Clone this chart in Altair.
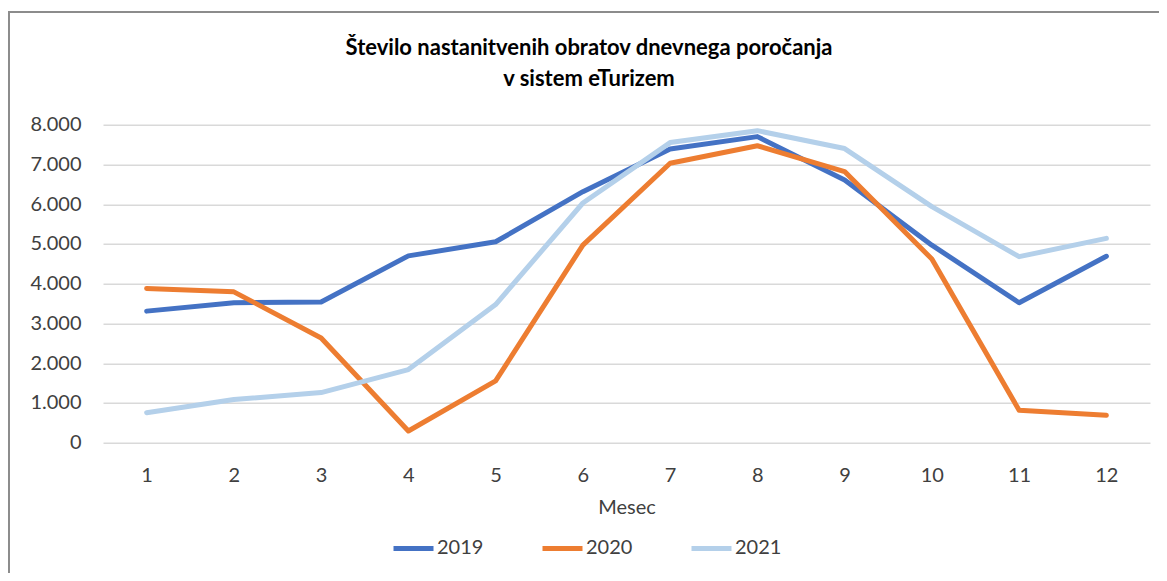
import altair as alt
import pandas as pd

months = list(range(1, 13))
years = ["2019", "2020", "2021"]
v2019 = [3310, 3520, 3540, 4700, 5055, 6315, 7390, 7700, 6610, 4970, 3520, 4690]
v2020 = [3880, 3795, 2635, 295, 1555, 4970, 7030, 7470, 6820, 4620, 815, 690]
v2021 = [755, 1085, 1260, 1840, 3475, 6030, 7550, 7850, 7400, 5940, 4680, 5140]
colors = ["#4472C4", "#ED7D31", "#B4D0EA"]

title_lines = ["Število nastanitvenih obratov dnevnega poročanja", "v sistem eTurizem"]

rows = []
for yr, vals in zip(years, [v2019, v2020, v2021]):
    for m, v in zip(months, vals):
        rows.append({"Mesec": m, "Leto": yr, "Vrednost": v, "order": years.index(yr)})
df = pd.DataFrame(rows)

FONT = "Lato"
TXT = "#404040"
FS = 20

lines = alt.Chart(df).mark_line(strokeWidth=5, strokeCap="round", strokeJoin="round").encode(
    x=alt.X("Mesec:O", scale=alt.Scale(type="point", padding=0.5),
            axis=alt.Axis(title="Mesec", labelAngle=0, ticks=False, domain=False, tickSize=0,
                          labelPadding=23, titlePadding=12, labelFontSize=FS, titleFontSize=FS,
                          titleFontWeight="normal", labelColor=TXT, titleColor=TXT,
                          labelFont=FONT, titleFont=FONT, grid=False)),
    y=alt.Y("Vrednost:Q", scale=alt.Scale(domain=[0, 8000], nice=False),
            axis=alt.Axis(title=None, values=list(range(0, 8001, 1000)), ticks=False, domain=False,
                          tickSize=0, labelPadding=22, labelFontSize=FS, labelColor=TXT, labelFont=FONT,
                          labelExpr="replace(format(datum.value, ','), ',', '.')",
                          gridColor="#D9D9D9", gridWidth=1.5)),
    color=alt.Color("Leto:N", scale=alt.Scale(domain=years, range=colors),
                    legend=alt.Legend(title=None, orient="none", direction="horizontal",
                                      legendX=288, legendY=401, symbolType="stroke",
                                      symbolSize=1600, symbolStrokeWidth=5, labelFontSize=FS,
                                      labelFont=FONT, labelColor=TXT, labelOffset=1,
                                      columnPadding=48)),
    order=alt.Order("order:Q"),
)

frame_v = alt.Chart(df).mark_rule(color="#8C8C8C", strokeWidth=1.5, clip=False).encode(
    x=alt.value(-94.5), y=alt.value(-112.7), y2=alt.value(600))
frame_h = alt.Chart(df).mark_rule(color="#8C8C8C", strokeWidth=1.5, clip=False).encode(
    x=alt.value(-94.5), x2=alt.value(1200), y=alt.value(-112.7))

t1 = alt.Chart(pd.DataFrame({"t": [title_lines[0]]})).mark_text(
    font=FONT, fontSize=22, fontWeight="bold", color="#000000", align="center", baseline="middle"
).encode(text="t:N", x=alt.value(486), y=alt.value(-77))
t2 = alt.Chart(pd.DataFrame({"t": [title_lines[1]]})).mark_text(
    font=FONT, fontSize=22, fontWeight="bold", color="#000000", align="center", baseline="middle"
).encode(text="t:N", x=alt.value(486), y=alt.value(-46))

chart = alt.layer(frame_v, frame_h, t1, t2, lines).properties(
    width=1047, height=318,
    autosize=alt.AutoSizeParams(type="none"),
    padding={"left": 95, "top": 116.7, "right": 9, "bottom": 130},
).configure_view(stroke=None)

chart.save("out.html", embed_options={"renderer": "svg", "actions": False})
